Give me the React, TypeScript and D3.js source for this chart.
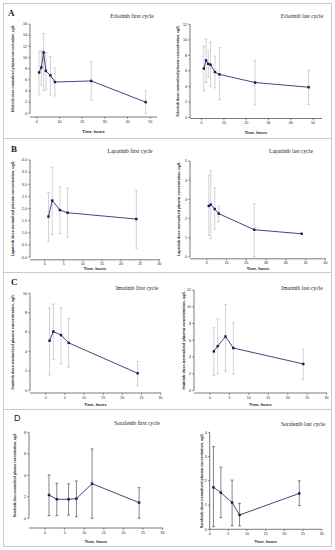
import React from "react";
import * as d3 from "d3";

// ---------- data ----------
const erlFirstT = [1, 2, 3, 4, 6, 8, 24, 48];
const erlFirstMean = [7.3, 8.2, 10.9, 7.6, 6.8, 5.6, 5.8, 2.0];
const erlFirstLow = [3.3, 5.1, 4.1, 4.3, 3.3, 3.1, 2.4, 0.0];
const erlFirstHigh = [11.1, 11.2, 14.3, 10.9, 10.2, 8.1, 9.2, 4.0];

const erlLastT = [1, 2, 3, 4, 6, 8, 24, 48];
const erlLastMean = [6.3, 7.35, 6.9, 6.8, 5.85, 5.55, 4.5, 3.9];
const erlLastLow = [3.4, 4.5, 5.2, 4.0, 3.8, 2.3, 1.6, 1.65];
const erlLastHigh = [9.2, 10.1, 8.6, 9.7, 7.9, 9.0, 7.35, 6.1];

const lapFirstT = [1, 2, 4, 6, 24];
const lapFirstMean = [1.67, 2.33, 1.94, 1.83, 1.57];
const lapFirstLow = [0.66, 0.93, 0.97, 0.82, 0.37];
const lapFirstHigh = [2.66, 3.7, 2.9, 2.84, 2.74];

const lapLastT = [1, 2, 4, 6, 24, 48];
const lapLastMean = [2.66, 2.73, 2.5, 2.26, 1.42, 1.21];
const lapLastLow = [1.12, 0.95, 1.45, 1.85, 0.0, 1.21];
const lapLastHigh = [4.24, 4.5, 3.6, 2.65, 2.77, 1.21];

const imaFirstT = [1, 2, 4, 6, 24];
const imaFirstMean = [5.12, 6.07, 5.7, 4.9, 1.77];
const imaFirstLow = [1.6, 3.2, 2.75, 2.4, 0.48];
const imaFirstHigh = [8.5, 8.9, 8.55, 7.4, 3.0];

const imaLastT = [1, 2, 4, 6, 24];
const imaLastMean = [4.67, 5.3, 6.45, 5.07, 3.17];
const imaLastLow = [1.8, 2.0, 2.3, 1.95, 1.3];
const imaLastHigh = [7.5, 8.55, 10.3, 8.1, 4.95];

const sorFirstT = [1, 3, 6, 8, 12, 24];
const sorFirstMean = [2.17, 1.77, 1.77, 1.83, 3.22, 1.46];
const sorFirstLow = [0.25, 0.25, 0.3, 0.15, 0.0, 0.0];
const sorFirstHigh = [4.03, 3.26, 3.2, 3.47, 6.45, 2.85];

const sorLastT = [1, 3, 6, 8, 24];
const sorLastMean = [1.73, 1.51, 1.1, 0.59, 1.48];
const sorLastLow = [0.11, 0.48, 0.15, 0.14, 0.98];
const sorLastHigh = [3.41, 2.56, 2.03, 1.07, 2.0];

const ticks50 = [0, 10, 20, 30, 40, 50];
const ticks60 = [0, 10, 20, 30, 40, 50, 60];
const ticks30 = [0, 5, 10, 15, 20, 25, 30];
const yTicksErlFirst = [0, 2, 4, 6, 8, 10, 12, 14, 16];
const yTicksErlLast = [0, 2, 4, 6, 8, 10, 12];
const yTicksLapFirst = [0, 0.5, 1, 1.5, 2, 2.5, 3, 3.5, 4];
const yTicksLapLast = [0, 1, 2, 3, 4, 5];
const yTicksImaFirst = [0, 2, 4, 6, 8, 10];
const yTicksImaLast = [0, 2, 4, 6, 8, 10, 12];
const yTicksSorFirst = [0, 2, 4, 6, 8];
const yTicksSorLast = [0, 1, 2, 3, 4];

const panelLetters = ["A", "B", "C", "D"];
const drugNames = ["Erlotinib", "Lapatinib", "Imatinib", "Sorafenib"];
const xTitle = "Time, hours";

const SANS = "'Liberation Sans', Arial, sans-serif";
const SERIF = "'Liberation Serif', 'Times New Roman', serif";
const NAVY = "#16165a";

type PanelCfg = {
  title: string;
  yLabel: string;
  t: number[]; mean: number[]; low: number[]; high: number[];
  xTicks: number[]; yTicks: number[]; yFmt: (v: number) => string;
  xDom: [number, number]; xRange: [number, number];
  yMax: number; y0: number; yTop: number; xAxisY: number;
  yAxisX: number; yTitleX: number; titleX: number; titleY: number;
  barColor: string; timeY: number;
};

function Panel({ c }: { c: PanelCfg }) {
  const x = d3.scaleLinear().domain(c.xDom).range(c.xRange);
  const y = d3.scaleLinear().domain([0, c.yMax]).range([c.y0, c.yTop]);
  const pts = c.t.map((t, i) => ({ t, m: c.mean[i], lo: c.low[i], hi: c.high[i] }));
  const line = d3.line<any>().x((d) => x(d.t)).y((d) => y(d.m));
  const xEnd = c.xRange[1];
  const cap = 1.4;
  return (
    <g>
      <text x={c.titleX} y={c.titleY} fontFamily={SERIF} fontSize={5.6} textAnchor="middle" fill="#222">{c.title}</text>
      {/* y axis */}
      <line x1={c.yAxisX} x2={c.yAxisX} y1={c.yTop} y2={c.y0} stroke="#222" strokeWidth={0.6} />
      {c.yTicks.map((v) => (
        <g key={"y" + v}>
          <line x1={c.yAxisX - 1.8} x2={c.yAxisX} y1={y(v)} y2={y(v)} stroke="#222" strokeWidth={0.5} />
          <text x={c.yAxisX - 3} y={y(v) + 1.3} fontFamily={SANS} fontSize={3.7} textAnchor="end" fill="#222">{c.yFmt(v)}</text>
        </g>
      ))}
      {/* x axis */}
      <line x1={c.yAxisX} x2={xEnd} y1={c.xAxisY} y2={c.xAxisY} stroke="#222" strokeWidth={0.6} />
      {c.xTicks.map((v) => (
        <g key={"x" + v}>
          <line x1={x(v)} x2={x(v)} y1={c.xAxisY} y2={c.xAxisY + 1.8} stroke="#222" strokeWidth={0.5} />
          <text x={x(v)} y={c.xAxisY + 5.6} fontFamily={SANS} fontSize={3.6} textAnchor="middle" fill="#222">{v}</text>
        </g>
      ))}
      <text x={(c.yAxisX + xEnd) / 2} y={c.timeY} fontFamily={SANS} fontSize={4.0} fontWeight="bold" textAnchor="middle" fill="#222">{xTitle}</text>
      <text transform={`translate(${c.yTitleX},${(c.yTop + c.y0) / 2}) rotate(-90)`} fontFamily={SANS} fontSize={3.6} fontWeight="bold" textAnchor="middle" fill="#222" textLength={c.y0 - c.yTop - 2} lengthAdjust="spacingAndGlyphs">{c.yLabel}</text>
      {/* error bars */}
      {pts.map((p, i) => (
        p.hi > p.lo ? (
          <g key={"e" + i} stroke={c.barColor} strokeWidth={0.6}>
            <line x1={x(p.t)} x2={x(p.t)} y1={y(p.hi)} y2={y(p.lo)} />
            <line x1={x(p.t) - cap} x2={x(p.t) + cap} y1={y(p.hi)} y2={y(p.hi)} />
            <line x1={x(p.t) - cap} x2={x(p.t) + cap} y1={y(p.lo)} y2={y(p.lo)} />
          </g>
        ) : null
      ))}
      <path d={line(pts) || ""} fill="none" stroke={NAVY} strokeWidth={0.8} />
      {pts.map((p, i) => (
        <rect key={"m" + i} x={x(p.t) - 1.2} y={y(p.m) - 1.2} width={2.4} height={2.4} fill={NAVY} />
      ))}
    </g>
  );
}

const fmtInt = (v: number) => String(v);
const fmt1 = d3.format(".1f");
const yl = (drug: string) => `${drug} dose-normalized plasma concentration, ug/L`;

export default function App() {
  const light = "#b5b5b5";
  const dark = "#333";
  const panels: PanelCfg[] = [
    { title: "Erlotinib first cycle", yLabel: yl(drugNames[0]), t: erlFirstT, mean: erlFirstMean, low: erlFirstLow, high: erlFirstHigh,
      xTicks: ticks50, yTicks: yTicksErlFirst, yFmt: fmtInt, xDom: [-3, 53], xRange: [30, 157], yMax: 16, y0: 113.3, yTop: 24,
      xAxisY: 117, yAxisX: 30, yTitleX: 14, titleX: 132, titleY: 18, barColor: light, timeY: 133 },
    { title: "Erlotinib last cycle", yLabel: yl(drugNames[0]), t: erlLastT, mean: erlLastMean, low: erlLastLow, high: erlLastHigh,
      xTicks: ticks50, yTicks: yTicksErlLast, yFmt: fmtInt, xDom: [-5.2, 54], xRange: [190, 322], yMax: 12, y0: 117.5, yTop: 24.3,
      xAxisY: 118.5, yAxisX: 190, yTitleX: 179, titleX: 302, titleY: 18, barColor: light, timeY: 134 },
    { title: "Lapatinib first cycle", yLabel: yl(drugNames[1]), t: lapFirstT, mean: lapFirstMean, low: lapFirstLow, high: lapFirstHigh,
      xTicks: ticks30, yTicks: yTicksLapFirst, yFmt: fmt1, xDom: [-3.83, 30.2], xRange: [30, 160], yMax: 4, y0: 257.2, yTop: 160,
      xAxisY: 259.8, yAxisX: 30, yTitleX: 14, titleX: 130, titleY: 153, barColor: light, timeY: 270.3 },
    { title: "Lapatinib last cycle", yLabel: yl(drugNames[1]), t: lapLastT, mean: lapLastMean, low: lapLastLow, high: lapLastHigh,
      xTicks: ticks60, yTicks: yTicksLapLast, yFmt: fmtInt, xDom: [-8.5, 60.3], xRange: [190, 326], yMax: 5, y0: 257, yTop: 161,
      xAxisY: 258.8, yAxisX: 190, yTitleX: 180, titleX: 291, titleY: 153, barColor: light, timeY: 270.3 },
    { title: "Imatinib first cycle", yLabel: yl(drugNames[2]), t: imaFirstT, mean: imaFirstMean, low: imaFirstLow, high: imaFirstHigh,
      xTicks: ticks30, yTicks: yTicksImaFirst, yFmt: fmtInt, xDom: [-4.1, 30.1], xRange: [30, 161], yMax: 10, y0: 390.5, yTop: 293.3,
      xAxisY: 393, yAxisX: 30, yTitleX: 14, titleX: 137, titleY: 290, barColor: light, timeY: 405.5 },
    { title: "Imatinib last cycle", yLabel: yl(drugNames[2]), t: imaLastT, mean: imaLastMean, low: imaLastLow, high: imaLastHigh,
      xTicks: ticks30, yTicks: yTicksImaLast, yFmt: fmtInt, xDom: [-4.1, 30.1], xRange: [194, 327], yMax: 12, y0: 390.5, yTop: 290,
      xAxisY: 393, yAxisX: 194, yTitleX: 185, titleX: 302, titleY: 290, barColor: light, timeY: 405.5 },
    { title: "Sorafenib first cycle", yLabel: yl(drugNames[3]), t: sorFirstT, mean: sorFirstMean, low: sorFirstLow, high: sorFirstHigh,
      xTicks: ticks30, yTicks: yTicksSorFirst, yFmt: fmtInt, xDom: [-4.1, 30.1], xRange: [29, 163], yMax: 8, y0: 518.3, yTop: 432.3,
      xAxisY: 528, yAxisX: 29, yTitleX: 16, titleX: 137, titleY: 425, barColor: dark, timeY: 543 },
    { title: "Sorafenib last cycle", yLabel: yl(drugNames[3]), t: sorLastT, mean: sorLastMean, low: sorLastLow, high: sorLastHigh,
      xTicks: ticks30, yTicks: yTicksSorLast, yFmt: fmtInt, xDom: [0, 30], xRange: [209.7, 321.7], yMax: 4, y0: 529.3, yTop: 432.3,
      xAxisY: 529.3, yAxisX: 209.7, yTitleX: 203, titleX: 303, titleY: 426, barColor: dark, timeY: 543 },
  ];
  const rowTops = [3, 138.5, 272.5, 409.5];
  const letterPos = [[8, 16], [11, 152], [11, 285], [14, 421]];
  return (
    <svg width={335} height={550} style={{ position: "absolute", left: 0, top: 0, background: "#fff" }}>
      <rect x={0} y={0} width={335} height={550} fill="#fff" />
      <rect x={3.5} y={3.5} width={328} height={543} fill="none" stroke="#bdbdbd" strokeWidth={0.8} />
      {rowTops.slice(1).map((yy, i) => (
        <line key={i} x1={3.5} x2={331.5} y1={yy} y2={yy} stroke="#bdbdbd" strokeWidth={0.8} />
      ))}
      {panelLetters.map((l, i) => (
        <text key={l} x={letterPos[i][0]} y={letterPos[i][1]} fontFamily={i === 3 ? SANS : SERIF}
          fontWeight={i === 3 ? "normal" : "bold"} fontSize={9} fill="#222">{l}</text>
      ))}
      {panels.map((c, i) => <Panel key={i} c={c} />)}
    </svg>
  );
}
